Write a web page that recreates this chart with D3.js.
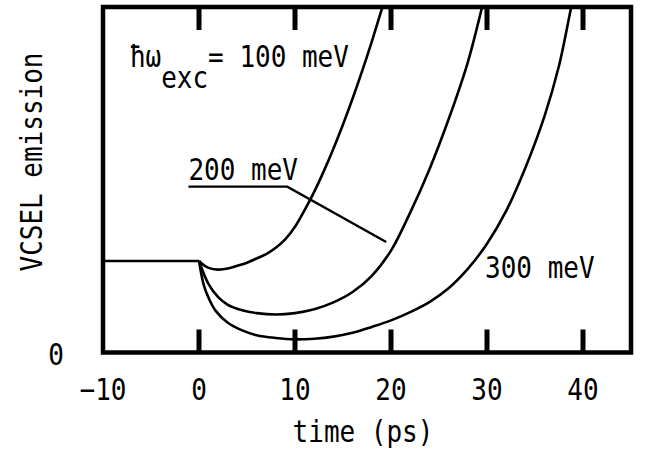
<!DOCTYPE html>
<html>
<head>
<meta charset="utf-8">
<script src="https://cdn.jsdelivr.net/npm/d3@7"></script>
<style>
  body { margin: 0; background: #fff; }
  text { font-family: "DejaVu Sans Mono", monospace; font-size: 26px; fill: #000; }
</style>
</head>
<body>
<div id="chart"></div>
<script>
// time (ps) / emission (arb. units)
const xTicks = [0, 10, 20, 30, 40];
const xLabels = [-10, 0, 10, 20, 30, 40];
const yTicks = [0];
const preLevel = 2.65;
const preTimes = [-10, 0];

const t100 = [0, 0.5, 1, 2, 3, 4, 5, 6, 7, 8, 9, 10, 11, 12, 13, 14, 15, 16, 17, 18, 19, 20];
const v100 = [2.65, 2.53, 2.45, 2.4, 2.43, 2.51, 2.6, 2.72, 2.85, 3.03, 3.28, 3.64, 4.12, 4.65, 5.25, 5.9, 6.6, 7.35, 8.15, 9.0, 9.9, 10.85];

const t200 = [0, 1, 2, 3, 4.5, 6, 8, 10, 12, 14, 16, 18, 20, 22, 24, 26, 28, 29.4, 30];
const v200 = [2.65, 1.98, 1.6, 1.38, 1.22, 1.14, 1.1, 1.14, 1.25, 1.45, 1.75, 2.22, 2.95, 4.05, 5.3, 6.75, 8.4, 9.9, 10.6];

const t300 = [0, 0.5, 1, 1.7, 3, 4.5, 6, 8, 10, 12, 14, 16, 18, 20, 22, 24, 26, 28, 30, 32, 34, 36, 37.5, 38.7, 39.3];
const v300 = [2.65, 1.95, 1.58, 1.22, 0.86, 0.64, 0.5, 0.42, 0.38, 0.4, 0.46, 0.57, 0.74, 0.93, 1.17, 1.46, 1.86, 2.42, 3.15, 4.1, 5.35, 6.85, 8.3, 9.9, 10.7];

const leader200 = [[-1.1, 4.8], [9.2, 4.8], [19.5, 3.2]];

const width = 646, height = 456;
const margins = {left: 103, top: 7, right: 15, bottom: 103.5};
const w = width - margins.left - margins.right;
const h = height - margins.top - margins.bottom;
const stretch = 1.16; // plotter font is taller than it is wide
const tickLen = 23;
const tickW = 5;

const svg = d3.select('#chart')
  .append('svg')
  .attr('width', width)
  .attr('height', height);

const g = svg.append('g')
  .attr('transform', `translate(${margins.left},${margins.top})`);

const x = d3.scaleLinear().domain([-10, 45]).range([0, w]);
const y = d3.scaleLinear().domain([0, 10]).range([h, 0]);

// put text at (px,py) with the vertical stretch
const tall = (sel, px, py, extra = '') =>
  sel.attr('x', 0).attr('y', 0)
    .attr('transform', `translate(${px},${py}) ${extra} scale(1,${stretch})`);

// frame
g.append('rect')
  .attr('width', w).attr('height', h)
  .attr('fill', 'none').attr('stroke', '#000').attr('stroke-width', 4.5);

// inward ticks on bottom and top edges
const tickG = g.append('g').attr('class', 'ticks');
xTicks.forEach((d) => {
  tickG.append('rect')
    .attr('x', x(d) - tickW / 2).attr('y', h - tickLen)
    .attr('width', tickW).attr('height', tickLen)
    .attr('fill', '#000');
  tickG.append('rect')
    .attr('x', x(d) - tickW / 2).attr('y', 0)
    .attr('width', tickW).attr('height', tickLen)
    .attr('fill', '#000');
});

g.append('clipPath').attr('id', 'clip')
  .append('rect').attr('width', w).attr('height', h);

// curves
const line = d3.line()
  .curve(d3.curveCatmullRom.alpha(0.5))
  .x((d) => x(d[0]))
  .y((d) => y(d[1]));

const curves = g.append('g').attr('clip-path', 'url(#clip)');

curves.append('path')
  .attr('d', line(preTimes.map((t) => [t, preLevel])))
  .attr('fill', 'none').attr('stroke', '#000').attr('stroke-width', 2.6);

[[t100, v100], [t200, v200], [t300, v300]].forEach(([ts, vs]) => {
  curves.append('path')
    .attr('d', line(ts.map((t, i) => [t, vs[i]])))
    .attr('fill', 'none')
    .attr('stroke', '#000')
    .attr('stroke-width', 2.6)
    .attr('stroke-linejoin', 'round');
});

// leader line for 200 meV
g.append('path')
  .attr('d', d3.line().x((d) => x(d[0])).y((d) => y(d[1]))(leader200))
  .attr('fill', 'none').attr('stroke', '#000').attr('stroke-width', 2.4);

// tick labels
const fmt = d3.format('d');
g.append('g').selectAll('text')
  .data(xLabels)
  .join('text')
  .attr('text-anchor', 'middle')
  .text((d) => fmt(d).replace('-', '\u2212'))
  .each(function (d) { tall(d3.select(this), x(d), h + 47.5); });

g.append('g').selectAll('text')
  .data(yTicks)
  .join('text')
  .attr('text-anchor', 'middle')
  .text((d) => d)
  .each(function (d) { tall(d3.select(this), -47, y(d) + 12); });

// axis titles
tall(svg.append('text').attr('text-anchor', 'middle').text('time (ps)'), 363, 442);
tall(svg.append('text').attr('text-anchor', 'middle').attr('font-size', 25)
  .text('VCSEL emission'), 42, 162, 'rotate(-90)');

// annotations
const ann = g.append('text');
tall(ann, x(-7.2), y(8.25));
ann.append('tspan').text('\u0127\u03c9');
ann.append('tspan').attr('dy', 21 / stretch).text('exc');
ann.append('tspan').attr('dy', -21 / stretch).text('= 100 meV');

tall(g.append('text').text('200 meV'), x(-1.1), y(5.0));
tall(g.append('text').attr('font-size', 25).text('300 meV'), x(29.8), y(2.15));
</script>
</body>
</html>
